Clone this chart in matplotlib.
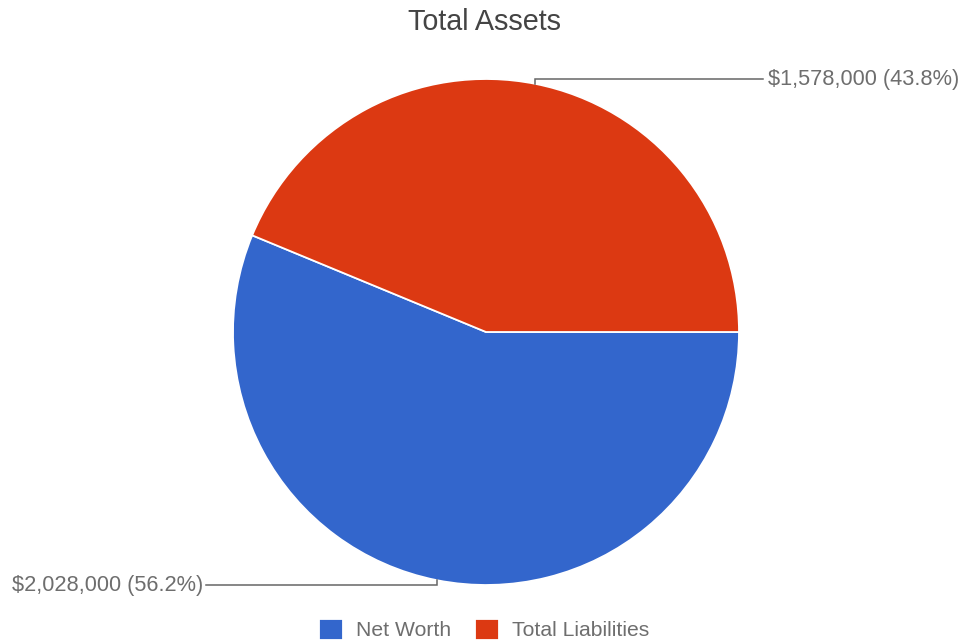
import numpy as np
import matplotlib.pyplot as plt

# data
categories = ['Net Worth', 'Total Liabilities']
values = [2028000, 1578000]
colors = ['#3366cc', '#dc3912']

plt.rcParams['font.family'] = ['Liberation Sans', 'DejaVu Sans']

W, H = 966, 643
fig = plt.figure(figsize=(W / 100, H / 100), dpi=100)
ax = fig.add_axes([0, 0, 1, 1])

# pie geometry in pixels (y measured up from the bottom)
cx, cy, r = 486, H - 332, 253

wedges, _ = ax.pie(values, colors=colors, startangle=0, counterclock=False,
                   center=(cx, cy), radius=r,
                   wedgeprops=dict(edgecolor='white', linewidth=1.3))
ax.set_xlim(0, W)
ax.set_ylim(0, H)
ax.set_aspect('auto')
ax.axis('off')

total = sum(values)
for w, v in zip(wedges, values):
    mid = np.deg2rad((w.theta1 + w.theta2) / 2)
    x0 = cx + r * np.cos(mid)
    y0 = cy + r * np.sin(mid)
    side = 1 if np.sin(mid) > 0 else -1
    y1 = cy + side * r
    if np.cos(mid) >= 0:
        x1 = cx + r + 24
        ha, tx = 'left', x1 + 5
    else:
        x1 = cx - r - 27
        ha, tx = 'right', x1 - 3
    ax.plot([x0, x0, x1], [y0, y1, y1], color='#666666', lw=1.1,
            solid_joinstyle='miter')
    label = f'${v:,.0f} ({v / total * 100:.1f}%)'
    ax.text(tx, y1, label, ha=ha, va='center', fontsize=15.7, color='#6e6e6e')

fig.text(484 / W, 1 - 22 / H, 'Total Assets', ha='center', va='center',
         fontsize=20.7, color='#444444')

fig.legend(wedges, categories, loc='center', bbox_to_anchor=(484 / W, 1 - 629.5 / H),
           ncol=2, frameon=False, fontsize=15.2, labelcolor='#6e6e6e',
           handlelength=1.15, handleheight=1.15, handletextpad=0.62,
           columnspacing=1.1, borderpad=0, borderaxespad=0)

fig.savefig('out.png', dpi=100)
